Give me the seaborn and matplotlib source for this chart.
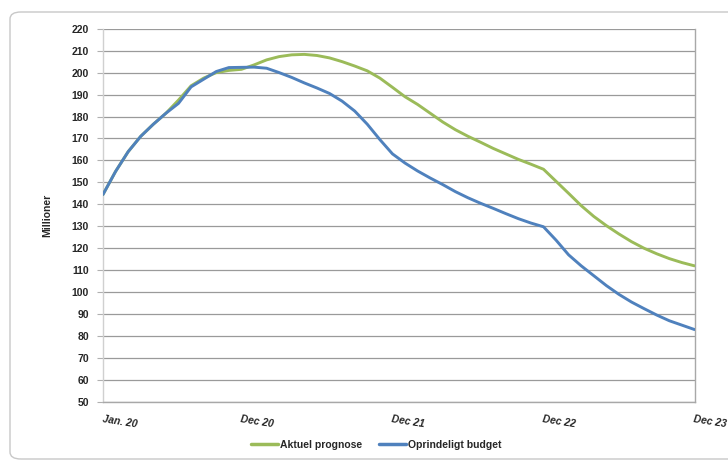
import numpy as np
import pandas as pd
import seaborn as sns
import matplotlib
matplotlib.use('Agg')
import matplotlib.pyplot as plt
from matplotlib.patches import FancyBboxPatch

# monthly values, Jan 2020 .. Dec 2023 (million)
months = list(range(48))
aktuel_prognose = [144.5, 155, 164, 171, 176.5, 181.5, 187.5, 194, 197.5, 200, 201, 201.5,
                   203.5, 205.8, 207.3, 208.1, 208.3, 207.8, 206.7, 205, 203, 200.8, 197.5, 193.3,
                   189, 185.5, 181.5, 177.5, 174, 171, 168.3, 165.5, 163, 160.5, 158.3, 156,
                   150.5, 145, 139.4, 134.5, 130.3, 126.5, 123, 120, 117.5, 115.3, 113.5, 112]
oprindeligt_budget = [144.5, 155, 164, 171, 176.5, 181.5, 186, 193.5, 197, 200.5, 202.3, 202.4,
                      202.5, 202, 200, 197.8, 195.3, 193, 190.5, 187, 182.5, 176.5, 169.5, 163,
                      158.8, 155.2, 152, 149, 145.8, 143, 140.5, 138.2, 135.8, 133.5, 131.5, 129.8,
                      123.7, 117, 112, 107.5, 103, 99, 95.5, 92.5, 89.6, 87, 85, 83]
series_names = ['Aktuel prognose', 'Oprindeligt budget']
tick_months = [0, 11, 23, 35, 47]
tick_labels = ['Jan. 20', 'Dec 20', 'Dec 21', 'Dec 22', 'Dec 23']

df = pd.DataFrame({
    'maaned': months * 2,
    'vaerdi': aktuel_prognose + oprindeligt_budget,
    'serie': [series_names[0]] * 48 + [series_names[1]] * 48,
})

sns.set_style('white')
plt.rcParams['font.family'] = ['Liberation Sans', 'DejaVu Sans']

fig = plt.figure(figsize=(7.28, 4.65), dpi=100)
frame = FancyBboxPatch((10 / 728, 6 / 465), 1.2, 447 / 465,
                       boxstyle='round,pad=0,rounding_size=0.015',
                       transform=fig.transFigure, facecolor='none',
                       edgecolor='#c8c8c8', linewidth=1.0, zorder=-1)
fig.patches.append(frame)

ax = fig.add_axes([103 / 728, 1 - 402 / 465, 591.5 / 728, 373.3 / 465])
ax.patch.set_alpha(0)
sns.lineplot(data=df, x='maaned', y='vaerdi', hue='serie', ax=ax,
             palette=['#9bbb59', '#4f81bd'], linewidth=2.1, legend=False, zorder=3)

ax.set_xlim(0, 47)
ax.set_ylim(50, 220)
ax.set_yticks(range(50, 221, 10))
ax.set_yticklabels([str(v) for v in range(50, 221, 10)], fontsize=7.5, fontweight='bold')
ax.yaxis.grid(True, color='#9a9a9a', linewidth=0.9)
ax.set_axisbelow(True)
ax.tick_params(axis='y', length=4, width=0.8, color='#b0b0b0', pad=6, left=True)

ax.set_xticks(tick_months)
ax.set_xticklabels(tick_labels, fontsize=7.5, fontweight='bold', fontstyle='italic',
                   rotation=-9, ha='left', rotation_mode='anchor')
ax.tick_params(axis='x', length=0, pad=9)

ax.set_xlabel('')
ax.set_ylabel('Millioner', fontsize=7.5, fontweight='bold', labelpad=14)

for side in ['left', 'bottom', 'right']:
    ax.spines[side].set_visible(True)
    ax.spines[side].set_color('#a8a8a8')
    ax.spines[side].set_linewidth(1.0)
ax.spines['left'].set_color('#d0d0d0')
ax.spines['top'].set_visible(False)

handles = [plt.Line2D([], [], color=c, linewidth=2.5) for c in ['#9bbb59', '#4f81bd']]
fig.legend(handles, series_names, loc='center', bbox_to_anchor=(376 / 728, 1 - 445 / 465),
           ncol=2, frameon=False, handlelength=2.6, handletextpad=0.2, columnspacing=1.6,
           prop={'size': 7.5, 'weight': 'bold'})

fig.savefig('out.png', dpi=100)
